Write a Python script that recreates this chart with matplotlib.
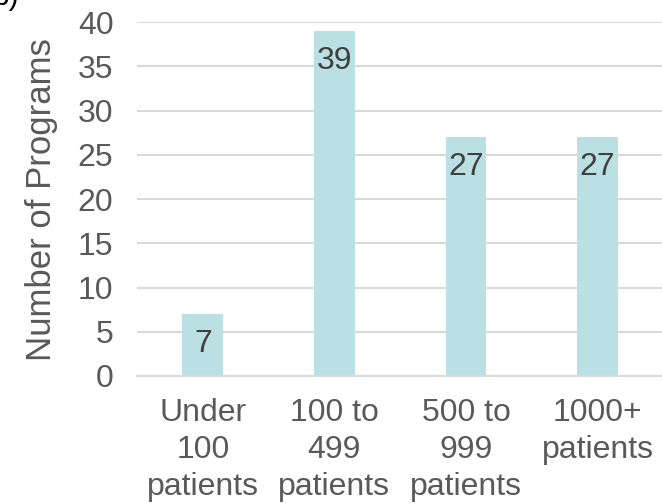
import matplotlib
matplotlib.use("Agg")
import matplotlib.pyplot as plt

# data
categories = ["Under\n100\npatients", "100 to\n499\npatients", "500 to\n999\npatients", "1000+\npatients"]
programs = [7, 39, 27, 27]
y_ticks = [0, 5, 10, 15, 20, 25, 30, 35, 40]

plt.rcParams['font.family'] = ['Liberation Sans', 'DejaVu Sans']

fig = plt.figure(figsize=(6.62, 5.04), dpi=100)
ax = fig.add_axes([0.207, 0.254, 0.795, 0.702])

x = list(range(len(categories)))
ax.bar(x, programs, width=0.31, color="#BAE0E3", zorder=2)

for xi, v in zip(x, programs):
    ax.annotate(str(v), (xi, v), xytext=(0, -11), textcoords="offset points",
                ha="center", va="top", fontsize=23, color="#404040", zorder=3)

ax.set_xlim(-0.5, 3.5)
ax.set_ylim(0, 40)
ax.set_yticks(y_ticks)
ax.set_xticks(x)
ax.set_xticklabels(categories, fontsize=23, color="#595959", linespacing=1.3)
ax.tick_params(axis="y", length=0, pad=17, labelsize=23, labelcolor="#595959")
ax.tick_params(axis="x", length=0, pad=16)
ax.yaxis.grid(True, color="#D9D9D9", linewidth=1.5, zorder=0)
ax.set_axisbelow(True)
for s in ["top", "right", "left"]:
    ax.spines[s].set_visible(False)
ax.spines["bottom"].set_color("#D9D9D9")
ax.spines["bottom"].set_linewidth(1.5)

ax.set_ylabel("Number of Programs", fontsize=25, color="#595959", labelpad=14)

# cut-off panel label in the corner
fig.text(-0.012, 1.005, "b)", fontsize=21.5, color="black", ha="left", va="center")

fig.savefig("out.png", dpi=100)
